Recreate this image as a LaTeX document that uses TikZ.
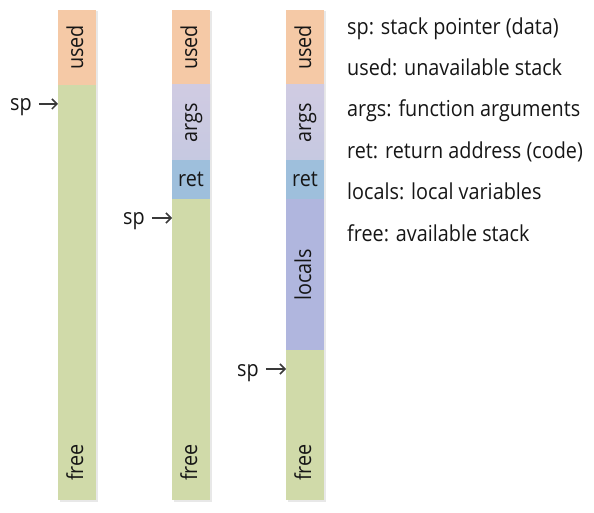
\documentclass[tikz,border=0pt]{standalone}
\usepackage{fontspec}
\setmainfont{Open Sans}[FakeStretch=0.9]
\usetikzlibrary{arrows.meta}
\definecolor{cused}{HTML}{F5C9A6}
\definecolor{cfree}{HTML}{D0DAA9}
\definecolor{cargs}{HTML}{D0CBE2}
\definecolor{cret}{HTML}{9EBFDC}
\definecolor{cloc}{HTML}{B0B6DE}
\definecolor{ctext}{HTML}{161616}
\begin{document}
\begin{tikzpicture}[x=1pt,y=-1pt,
  lbl/.style={font=\fontsize{22}{26}\selectfont, text=ctext, inner sep=0pt},
  vlbl/.style={lbl, rotate=90, anchor=base},
  splbl/.style={lbl, anchor=base},
  legend/.style={font=\fontsize{22}{26}\selectfont, text=ctext, anchor=base west, inner sep=0pt},
  spar/.style={draw=ctext!85, line width=1.5pt, shorten <=7pt, -{Straight Barb[length=5pt,width=10pt]}},
  shadowbox/.style={fill=black!9}]
\useasboundingbox (0,0) rectangle (594,513);

% shadows
\fill[shadowbox] (59.5,11.5) rectangle (97.5,501.5);
\fill[shadowbox] (173.5,11.5) rectangle (211.5,501.5);
\fill[shadowbox] (287.5,11.5) rectangle (325.5,501.5);

% column A
\fill[cused] (58,10) rectangle (96,85);
\fill[cfree] (58,85) rectangle (96,500);
\node[vlbl] (usedA) at (83,47.5) {used};
\node[vlbl] (freeA) at (83,462.5) {free};

% column B
\fill[cused] (172,10) rectangle (210,85);
\shade[top color=cargs, bottom color=cargs!80!cret] (172,85) rectangle (210,160);
\fill[cret] (172,160) rectangle (210,199);
\fill[cfree] (172,199) rectangle (210,500);
\node[vlbl] (usedB) at (197,47.5) {used};
\node[vlbl] (argsB) at (197,123) {args};
\node[splbl] (retB) at (191,186) {ret};
\node[vlbl] (freeB) at (197,462.5) {free};

% column C
\fill[cused] (286,10) rectangle (324,85);
\shade[top color=cargs, bottom color=cargs!80!cret] (286,85) rectangle (324,160);
\fill[cret] (286,160) rectangle (324,199);
\fill[cloc] (286,199) rectangle (324,350);
\fill[cfree] (286,350) rectangle (324,500);
\node[vlbl] (usedC) at (311,47.5) {used};
\node[vlbl] (argsC) at (311,123) {args};
\node[splbl] (retC) at (305,186) {ret};
\node[vlbl] (locC) at (311,274.5) {locals};
\node[vlbl] (freeC) at (311,462.5) {free};

% stack pointers
\coordinate (tipA) at (58,104);
\coordinate (tipB) at (172,218);
\coordinate (tipC) at (286,369);
\node[splbl] (spA) at (21,111) {sp};
\node[splbl] (spB) at (134,225) {sp};
\node[splbl] (spC) at (248,376) {sp};
\draw[spar] (spA.east |- tipA) -- (tipA);
\draw[spar] (spB.east |- tipB) -- (tipB);
\draw[spar] (spC.east |- tipC) -- (tipC);

% legend
\node[legend] (l1) at (347,35) {sp: stack pointer (data)};
\node[legend] (l2) at (347,76) {used: unavailable stack};
\node[legend] (l3) at (347,117) {args: function arguments};
\node[legend] (l4) at (347,159) {ret: return address (code)};
\node[legend] (l5) at (347,200) {locals: local variables};
\node[legend] (l6) at (347,241) {free: available stack};
\end{tikzpicture}
\end{document}
